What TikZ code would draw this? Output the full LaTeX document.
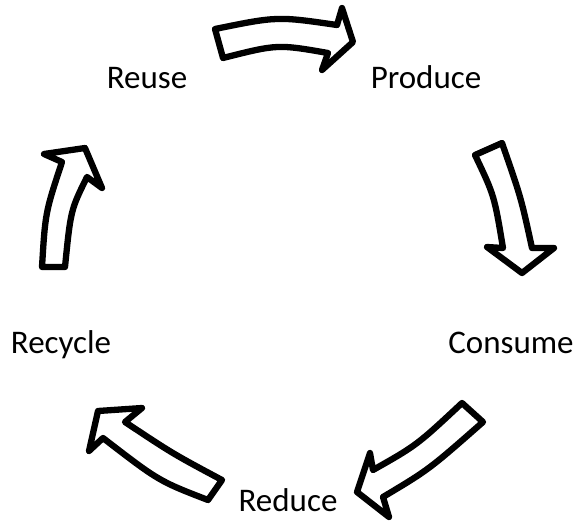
\documentclass[tikz,border=0pt]{standalone}
\usepackage{fontspec}
\setmainfont{Carlito}
\begin{document}
\begin{tikzpicture}[x=1pt,y=-1pt,
  lbl/.style={anchor=base,inner sep=0pt,font=\fontsize{33}{39}\selectfont},
  blockarrow/.style={draw=black,fill=white,line width=6.3pt,line join=round}]
\useasboundingbox (0,0) rectangle (581,523);
% labels
\node[lbl] (reuse)   at (147,88)  {Reuse};
\node[lbl] (produce) at (426,88)  {Produce};
\node[lbl] (consume) at (511,353) {Consume};
\node[lbl] (recycle) at (61,353)  {Recycle};
\node[lbl] (reduce)  at (288,511) {Reduce};
% Reuse -> Produce
\draw[blockarrow] (215,29) .. controls (277.3,16.3) .. (337,25) -- (342,8) -- (353,42) -- (322,70) -- (328,53) .. controls (277.5,44.2) .. (223,58) -- cycle;
% Produce -> Consume
\draw[blockarrow] (502,143) -- (475,155) .. controls (494.3,195.5) .. (503,248) -- (487,247) -- (522,273) -- (554,248) -- (532,248) .. controls (521,197.5) .. (502,143) -- cycle;
% Consume -> Reduce
\draw[blockarrow] (462,403) .. controls (416.8,445.2) .. (373,470) -- (370,453) -- (357,492) -- (389,517) -- (383,497) .. controls (429,469.5) .. (483,422) -- cycle;
% Reduce -> Recycle
\draw[blockarrow] (222,480) .. controls (172.8,453.7) .. (125,422) -- (142,408) -- (98,411) -- (89,451) -- (103,438) .. controls (158.8,481) .. (208,500) -- cycle;
% Recycle -> Reuse
\draw[blockarrow] (65,267) -- (42,267) .. controls (45.3,212.5) .. (62,162) -- (44,154) -- (85,148) -- (102,188) -- (87,177) .. controls (70.7,210) .. (65,267) -- cycle;
\end{tikzpicture}
\end{document}
